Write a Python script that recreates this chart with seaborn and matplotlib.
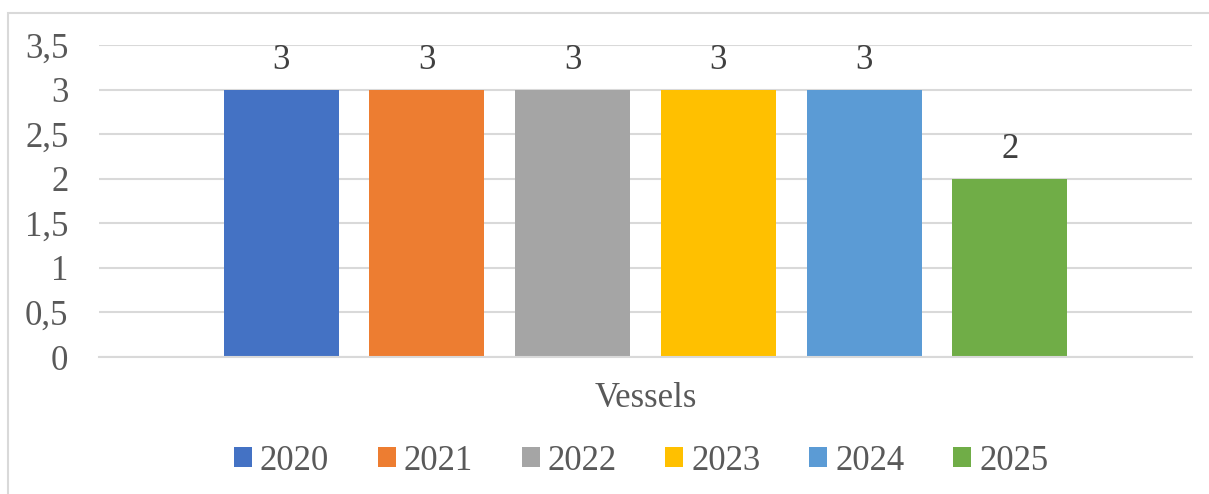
import pandas as pd
import matplotlib.pyplot as plt
import seaborn as sns
from matplotlib.patches import Rectangle
from matplotlib.ticker import FuncFormatter, MultipleLocator

# data
years = ['2020', '2021', '2022', '2023', '2024', '2025']
vessels = [3, 3, 3, 3, 3, 2]
category = 'Vessels'
colors = ['#4472C4', '#ED7D31', '#A5A5A5', '#FFC000', '#5B9BD5', '#70AD47']

df = pd.DataFrame({'cat': [category] * len(years), 'year': years, 'value': vessels})

sns.set_style('white')
plt.rcParams['font.family'] = ['Liberation Serif', 'DejaVu Serif']

grey_txt = '#595959'
grid_col = '#D9D9D9'
fs = 25

fig = plt.figure(figsize=(12.09, 4.94), dpi=100)
ax = fig.add_axes([99 / 1209, 1 - 357 / 494, (1192 - 99) / 1209, (357 - 45) / 494])

sns.barplot(data=df, x='cat', y='value', hue='year', hue_order=years,
            palette=colors, width=0.8, gap=0.21, saturation=1, linewidth=0,
            ax=ax)

for c in ax.containers:
    ax.bar_label(c, fmt='%g', padding=9, fontsize=fs, color='#404040')

ax.set_ylim(0, 3.5)
ax.set_xlim(-0.5, 0.5)
ax.yaxis.set_major_locator(MultipleLocator(0.5))
ax.yaxis.set_major_formatter(FuncFormatter(lambda v, p: f'{v:g}'.replace('.', ',')))
ax.grid(axis='y', color=grid_col, linewidth=1.5)
ax.set_axisbelow(True)
for s in ['top', 'left', 'right']:
    ax.spines[s].set_visible(False)
ax.spines['bottom'].set_color(grid_col)
ax.spines['bottom'].set_linewidth(1.5)
ax.tick_params(axis='y', length=0, pad=22, labelsize=fs, labelcolor=grey_txt)
ax.tick_params(axis='x', length=0, pad=18, labelsize=fs, labelcolor=grey_txt)
ax.set_xlabel('')
ax.set_ylabel('')

handles, labels = ax.get_legend_handles_labels()
ax.legend_.remove()
fig.legend(handles, labels, loc='center', bbox_to_anchor=(641 / 1209, 1 - 461 / 494),
           ncol=6, frameon=False, fontsize=fs, labelcolor=grey_txt,
           handlelength=0.52, handleheight=0.52, handletextpad=0.23,
           columnspacing=1.40, borderaxespad=0)

# chart area border
fig.patches.append(Rectangle((8 / 1209, -0.1), 1.1, 1 - 13 / 494 + 0.1,
                             transform=fig.transFigure, fill=False,
                             edgecolor=grid_col, linewidth=1.5, zorder=-1))

fig.savefig('out.png', dpi=100)
